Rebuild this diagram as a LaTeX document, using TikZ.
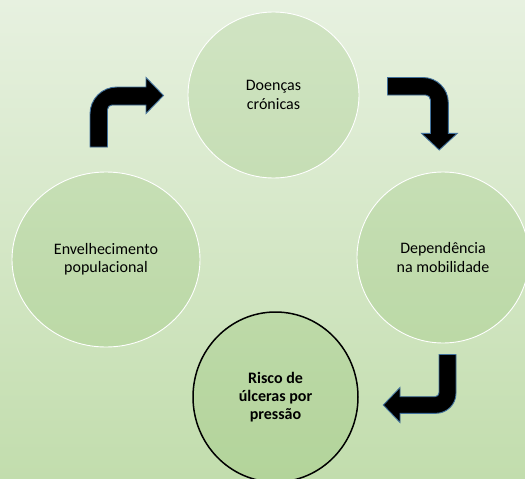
\documentclass[tikz,border=0pt]{standalone}
\usepackage{fontspec}
\setmainfont{Carlito}
\usetikzlibrary{shapes.geometric}

\definecolor{bgtop}{RGB}{231,241,224}
\definecolor{bgbot}{RGB}{194,221,173}
\definecolor{bubble}{RGB}{112,173,71}
\definecolor{arrowedge}{RGB}{65,113,156}

\tikzset{
  bubblestyle/.style={ellipse, inner sep=0pt, align=center,
    fill=bubble, fill opacity=0.18, text opacity=1,
    draw=white, draw opacity=1, line width=0.9pt,
    font=\fontsize{16}{18.3}\selectfont, text=black},
  keybubble/.style={bubblestyle, draw=black, line width=1.5pt,
    font=\bfseries\fontsize{16}{18.3}\selectfont},
  bentarrow/.style={fill=black, draw=arrowedge, line width=0.9pt, line join=miter}
}

\begin{document}
\begin{tikzpicture}[x=1pt, y=-1pt]
  \useasboundingbox (0,0) rectangle (525,479);
  \begin{scope}
    \clip (0,0) rectangle (525,479);
    % background
    \shade[top color=bgtop, bottom color=bgbot] (0,0) rectangle (525,479);

    % the four stages of the cycle
    \node[bubblestyle, minimum width=171pt, minimum height=166pt] (chron) at (273.5,95) {Doenças\\crónicas};
    \node[bubblestyle, minimum width=172pt, minimum height=171pt] (depend) at (443,257.5) {Dependência\\na mobilidade};
    \node[keybubble, minimum width=165pt, minimum height=170pt] (risk) at (275.5,397) {Risco de\\úlceras por\\pressão};
    \node[bubblestyle, minimum width=188pt, minimum height=175pt] (aging) at (106,259.5) {Envelhecimento\\populacional};

    % bent arrow: aging -> chronic diseases
    \draw[bentarrow] (90,147) -- (90,114)
      .. controls (90,99) and (102,87) .. (117,87)
      -- (146,87) -- (146,77.5) -- (163.5,95.5) -- (146,113.5) -- (146,105)
      -- (112,105) .. controls (109.5,105) and (107.5,107) .. (107.5,109.5)
      -- (107.5,147) -- cycle;

    % bent arrow: chronic diseases -> mobility dependence
    \draw[bentarrow] (387.5,77.5) -- (423,77.5)
      .. controls (436.8,77.5) and (448.3,88.7) .. (448.3,102.5)
      -- (448.3,133.3) -- (457.3,133.3) -- (439.2,150) -- (421.5,133.3) -- (430.5,133.3)
      -- (430.5,100) .. controls (430.5,97.2) and (428.3,95) .. (425.5,95)
      -- (387.5,95) -- cycle;

    % bent arrow: mobility dependence -> pressure ulcer risk
    \draw[bentarrow] (439,354.5) -- (456,354.5) -- (456,393.3)
      .. controls (456,404.3) and (447,413.3) .. (436,413.3)
      -- (400,413.3) -- (400,422.5) -- (383.3,405) -- (400,387.5) -- (400,396.7)
      -- (435,396.7) .. controls (437.2,396.7) and (439,394.9) .. (439,392.7)
      -- cycle;
  \end{scope}
\end{tikzpicture}
\end{document}
